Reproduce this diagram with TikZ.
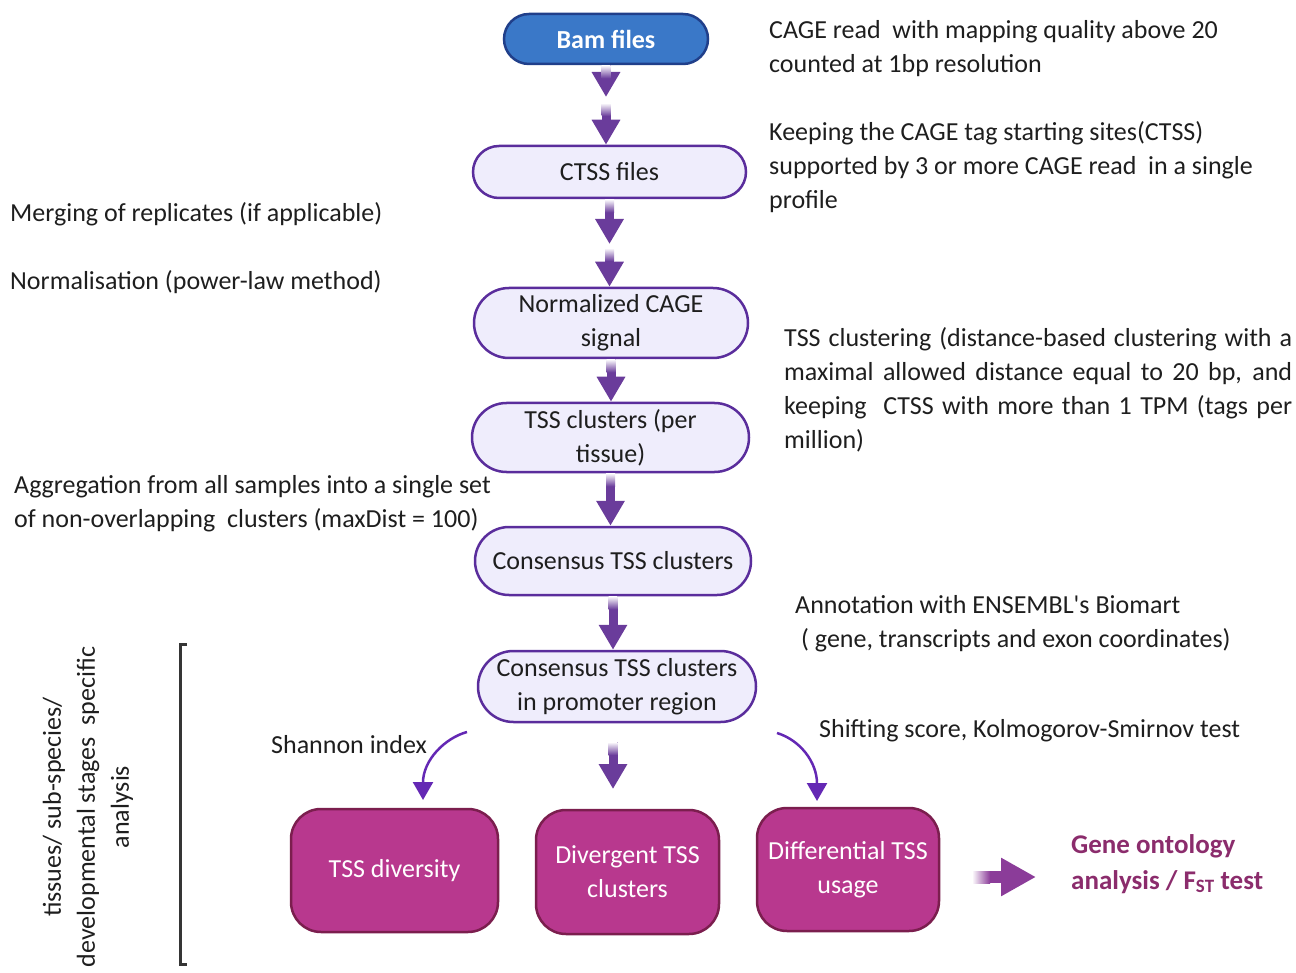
\documentclass[tikz,border=0pt]{standalone}
\usepackage{fontspec}
\setmainfont{Carlito}
\usetikzlibrary{arrows.meta,shapes.misc,calc}
\definecolor{bamblue}{RGB}{58,120,200}
\definecolor{bamedge}{RGB}{32,63,138}
\definecolor{lilac}{RGB}{239,237,252}
\definecolor{lilacedge}{RGB}{90,45,156}
\definecolor{flowpurple}{RGB}{106,60,155}
\definecolor{curvepurple}{RGB}{100,40,180}
\definecolor{plum}{RGB}{184,56,142}
\definecolor{plumedge}{RGB}{123,30,78}
\definecolor{goplum}{RGB}{139,44,108}
\definecolor{goarrow}{RGB}{139,60,153}
\definecolor{inkgray}{RGB}{30,30,30}

\begin{document}
\begin{tikzpicture}[x=1pt, y=-1pt,
		every node/.style = {font=\fontsize{26}{34}\selectfont, text=inkgray, inner sep=0pt},
		pill/.style = {rounded rectangle, draw=lilacedge, line width=2.5pt, fill=lilac, align=center},
		result/.style = {rectangle, rounded corners=30pt, draw=plumedge, line width=2.5pt, fill=plum, text=white, align=center},
		note/.style = {anchor=base west, align=left},
		flow/.style = {draw=flowpurple, line width=9pt, -{Triangle[width=27pt,length=25pt]}},
		curvearrow/.style = {draw=curvepurple, line width=2.5pt, -{Triangle[width=20pt,length=18pt]}},
		fade/.style = {top color=white, bottom color=flowpurple}]
	\useasboundingbox (0,0) rectangle (1296,973);

	% main pipeline
	\node[pill, fill=bamblue, draw=bamedge, text=white, font=\fontsize{26}{34}\selectfont\bfseries,
		minimum width=204pt, minimum height=50pt] (bam) at (606,39) {Bam files};
	\node[pill, minimum width=273pt, minimum height=52pt] (ctss) at (609.5,172) {CTSS files};
	\node[pill, minimum width=274pt, minimum height=70pt] (norm) at (611,323) {Normalized CAGE\\signal};
	\node[pill, minimum width=277pt, minimum height=69pt] (tssc) at (610.5,437.5) {TSS clusters (per\\tissue)};
	\node[pill, minimum width=276pt, minimum height=68pt] (cons) at (613,561) {Consensus TSS clusters};
	\node[pill, minimum width=278pt, minimum height=71pt] (prom) at (617,686.5) {Consensus TSS clusters\\in promoter region};

	% analyses
	\node[result, minimum width=207pt, minimum height=123pt] (div) at (394.5,870.5) {TSS diversity};
	\node[result, minimum width=183pt, minimum height=124pt] (divg) at (627.5,872) {Divergent TSS\\clusters};
	\node[result, minimum width=182pt, minimum height=123pt] (diff) at (848,869.5) {Differential TSS\\usage};
	\node[note, text=goplum, font=\fontsize{27}{36}\selectfont\bfseries] (gonote) at (1071,889)
		{Gene ontology\\analysis / F\textsubscript{ST} test};

	% notes (base = last line)
	\node[note] (cagenote) at (769,73) {CAGE read~ with mapping quality above 20\\counted at 1bp resolution};
	\node[note] (ctssnote) at (769,209) {Keeping the CAGE tag starting sites(CTSS)\\supported by 3 or more CAGE read~ in a single\\profile};
	\node[note] (mergenote) at (10,222) {Merging of replicates (if applicable)};
	\node[note] (normnote) at (10,290) {Normalisation (power-law method)};
	\node[note, text width=508pt, align=justify] (clusnote) at (784,347)
		{TSS clustering (distance-based clustering with a\linebreak maximal allowed distance equal to 20 bp, and\linebreak keeping~ CTSS with more than 1 TPM (tags per\linebreak million)};
	\node[note] (aggnote) at (14,527) {Aggregation from all samples into a single set\\of non-overlapping~ clusters (maxDist = 100)};
	\node[note] (annnote) at (795,647) {Annotation with ENSEMBL\textquotesingle s Biomart\\\hspace{6pt}( gene, transcripts and exon coordinates)};
	\node[note] (shiftnote) at (819,737) {Shifting score, Kolmogorov-Smirnov test};
	\node[note] (shannote) at (271,753) {Shannon index};
	\node[rotate=90, align=center] (scopenote) at (88,807) {tissues/ sub-species/\\developmental stages~ specific\\analysis};

	% bracket
	\draw[line width=3pt, draw=inkgray!90] (187,644) -- (180,644) -- (180,964) -- (187,964);

	% arrows
	\coordinate (m1) at (606,97);
	\coordinate (m2) at (606,103);
	\coordinate (m3) at (609.5,244);
	\coordinate (m4) at (609.5,248);
	\coordinate (mida) at (613,742);
	\coordinate (midb) at (613,789);
	\draw[flow] (bam.south) -- (m1);
	\draw[flow] (m2) -- (m2 |- ctss.north);
	\draw[flow] (ctss.south) -- (m3);
	\draw[flow] (m4) -- (m4 |- norm.north);
	\draw[flow] (norm.south) -- (norm.south |- tssc.north);
	\draw[flow] (tssc.south) -- (tssc.south |- cons.north);
	\draw[flow] (cons.south) -- (cons.south |- prom.north);
	\draw[flow] (mida) -- (midb);
	\foreach \t in {bam.south, m2, ctss.south, m4, norm.south, tssc.south, cons.south, mida}
		\shade[fade] ($(\t)+(-4.5,0)$) rectangle ($(\t)+(4.5,13)$);

	\coordinate (shana) at (467,732);
	\coordinate (shanb) at (423,800);
	\coordinate (shifta) at (777,733);
	\coordinate (shiftb) at (817,801);
	\draw[curvearrow] (shana) .. controls (445,738) and (423,760) .. (shanb);
	\draw[curvearrow] (shifta) .. controls (800,740) and (817,762) .. (shiftb);

	\coordinate (goa) at (972,877);
	\coordinate (gob) at (1036,877);
	\draw[draw=goarrow, line width=12pt, -{Triangle[width=36pt,length=35pt]}] (goa) -- (gob);
	\shade[left color=white, right color=goarrow] (972,871) rectangle (990,883);
\end{tikzpicture}
\end{document}
